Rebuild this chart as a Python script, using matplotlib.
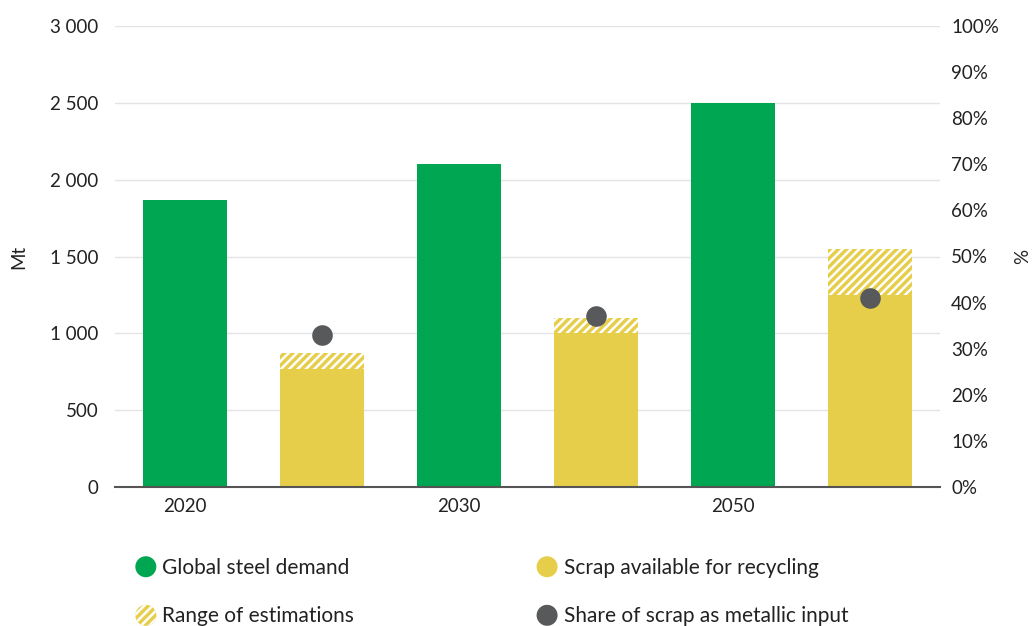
import matplotlib
matplotlib.use("Agg")
import matplotlib.pyplot as plt
import matplotlib.patches as mpatches
from matplotlib.legend_handler import HandlerPatch
from matplotlib.ticker import FuncFormatter

plt.rcParams['font.family'] = ['Lato', 'DejaVu Sans']
plt.rcParams['hatch.linewidth'] = 1.8

years = ['2020', '2030', '2050']
steel_demand = [1870, 2100, 2500]
scrap_available = [765, 1000, 1250]
scrap_range_top = [870, 1100, 1550]
scrap_share = [33, 37, 41]

green = '#00A651'
yellow = '#E6CE4A'
dot = '#58595B'
grid_c = '#E3E3E8'
text_c = '#222222'

fig = plt.figure(figsize=(10.35, 6.26), dpi=100)
ax = fig.add_axes([115/1035, 1-487/626, (940-115)/1035, (487-26)/626])
ax2 = ax.twinx()

n = len(years)
gx = [2*i for i in range(n)]
yx = [2*i+1 for i in range(n)]
w = 0.61

ax.bar(gx, steel_demand, width=w, color=green, zorder=3)
ax.bar(yx, scrap_available, width=w, color=yellow, zorder=3)
rng = [t - b for t, b in zip(scrap_range_top, scrap_available)]
ax.bar(yx, rng, bottom=scrap_available, width=w, facecolor=yellow,
       edgecolor='white', hatch='////', linewidth=0, zorder=3)

ax2.scatter(yx, scrap_share, s=220, color=dot, zorder=5, linewidths=0)

ax.set_ylim(0, 3000)
ax.set_xlim(-0.51, 5.51)
ax.set_yticks(range(0, 3001, 500))
ax.yaxis.set_major_formatter(FuncFormatter(lambda v, p: f'{int(v):,}'.replace(',', ' ')))
ax.set_xticks(gx)
ax.set_xticklabels(years)
ax2.set_ylim(0, 100)
ax2.set_yticks(range(0, 101, 10))
ax2.yaxis.set_major_formatter(FuncFormatter(lambda v, p: f'{int(v)}%'))

ax.grid(axis='y', color=grid_c, linewidth=1, zorder=0)
ax.set_axisbelow(True)
for a in (ax, ax2):
    for s in ['top', 'left', 'right', 'bottom']:
        a.spines[s].set_visible(False)
ax.spines['bottom'].set_visible(True)
ax.spines['bottom'].set_color('#555555')
ax.spines['bottom'].set_linewidth(1.5)
ax.spines['bottom'].set_zorder(6)

fs = 13.5
ax.tick_params(axis='y', length=0, pad=12, labelsize=fs, labelcolor=text_c)
ax.tick_params(axis='x', length=0, pad=8, labelsize=fs, labelcolor=text_c)
ax2.tick_params(axis='y', length=0, pad=8, labelsize=fs, labelcolor=text_c)

ax.set_ylabel('Mt', fontsize=fs, color=text_c, labelpad=16)
ax2.set_ylabel('%', fontsize=fs, color=text_c, labelpad=11)


class HandlerCircle(HandlerPatch):
    def create_artists(self, legend, orig_handle, xdescent, ydescent,
                       width, height, fontsize, trans):
        r = 10.5 * 72 / 100
        cx = width / 2 - xdescent
        cy = height / 2 - ydescent
        p = mpatches.Ellipse((cx, cy), 2*r, 2*r)
        self.update_prop(p, orig_handle, legend)
        p.set_transform(trans)
        return [p]


h_green = mpatches.Circle((0, 0), 1, facecolor=green, edgecolor='none')
h_range = mpatches.Circle((0, 0), 1, facecolor=yellow, edgecolor='white',
                          hatch='////', linewidth=0)
h_yellow = mpatches.Circle((0, 0), 1, facecolor=yellow, edgecolor='none')
h_dot = mpatches.Circle((0, 0), 1, facecolor=dot, edgecolor='none')

handles = [h_green, h_range, h_yellow, h_dot]
labels = ['Global steel demand', 'Range of estimations',
          'Scrap available for recycling', 'Share of scrap as metallic input']
leg = fig.legend(handles, labels, ncol=2, loc='upper left',
                 bbox_to_anchor=(125/1035, 1-547/626), frameon=False,
                 fontsize=15, handlelength=1.0, handleheight=1.0,
                 handletextpad=0.3, columnspacing=8.75, labelspacing=1.35,
                 handler_map={mpatches.Circle: HandlerCircle()},
                 borderpad=0, labelcolor=text_c)

fig.savefig('out.png', dpi=100)
